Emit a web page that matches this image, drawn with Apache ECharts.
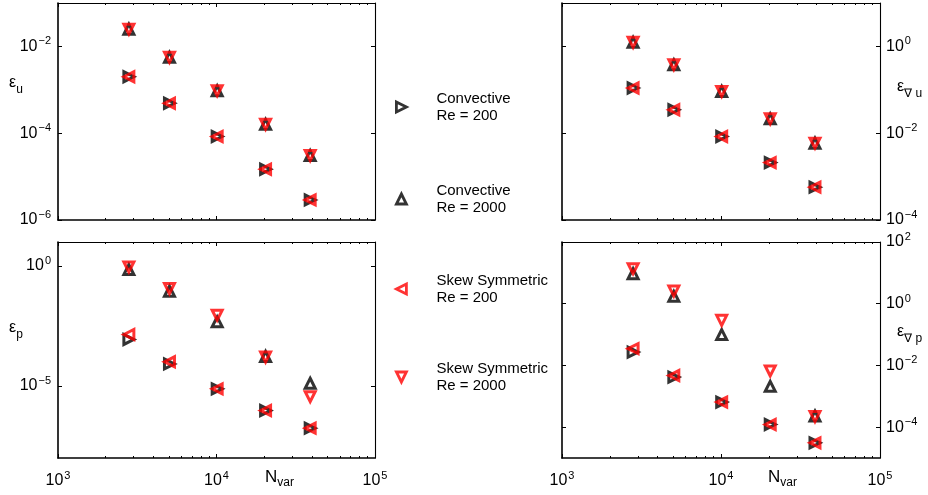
<!DOCTYPE html>
<html>
<head>
<meta charset="utf-8">
<script src="https://cdn.jsdelivr.net/npm/echarts@6/dist/echarts.min.js"></script>
<style>
  html, body { margin: 0; padding: 0; background: #ffffff; }
  #chart { width: 928px; height: 495px; }
</style>
</head>
<body>
<div id="chart"></div>
<script>
const FONT = '"Liberation Sans", Arial, Helvetica, sans-serif';

// Number of unknowns per mesh
const nVar = [2800, 5050, 10100, 20400, 39000];

// Tick values (log axes)
const xMajorTicks = [1e3, 1e4, 1e5];
const xMinorTicks = [2e3, 3e3, 4e3, 5e3, 6e3, 7e3, 8e3, 9e3,
                     2e4, 3e4, 4e4, 5e4, 6e4, 7e4, 8e4, 9e4];
const yTicksU = [1e-6, 1e-4, 1e-2];
const yTicksGradU = [1e-4, 1e-2, 1];
const yTicksP = [1e-5, 1];
const yTicksGradP = [1e-4, 1e-2, 1, 100];

// Velocity error
const errU_conv200  = [2.0e-3, 4.9e-4, 8.4e-5, 1.48e-5, 2.9e-6];
const errU_conv2000 = [2.5e-2, 5.6e-3, 9.5e-4, 1.6e-4, 3.05e-5];
const errU_skew200  = [2.0e-3, 4.9e-4, 8.4e-5, 1.48e-5, 2.9e-6];
const errU_skew2000 = [2.5e-2, 5.6e-3, 9.5e-4, 1.6e-4, 3.05e-5];

// Velocity gradient error
const errGU_conv200  = [0.11, 0.0347, 8.4e-3, 2.1e-3, 5.7e-4];
const errGU_conv2000 = [1.24, 0.378, 0.0916, 0.0214, 5.9e-3];
const errGU_skew200  = [0.11, 0.0347, 8.4e-3, 2.1e-3, 5.7e-4];
const errGU_skew2000 = [1.24, 0.378, 0.0916, 0.0214, 5.9e-3];

// Pressure error
const errP_conv200  = [8.7e-4, 8.3e-5, 7.6e-6, 9.5e-7, 1.75e-7];
const errP_conv2000 = [0.71, 0.089, 4.7e-3, 1.7e-4, 1.3e-5];
const errP_skew200  = [1.4e-3, 1.02e-4, 7.6e-6, 9.5e-7, 1.75e-7];
const errP_skew2000 = [0.91, 0.115, 8.9e-3, 1.6e-4, 3.6e-6];

// Pressure gradient error
const errGP_conv200  = [0.027, 4.2e-3, 6.5e-4, 1.22e-4, 3.1e-5];
const errGP_conv2000 = [9.4, 1.73, 0.1, 2.1e-3, 2.3e-4];
const errGP_skew200  = [0.035, 4.7e-3, 6.5e-4, 1.22e-4, 3.1e-5];
const errGP_skew2000 = [13.6, 2.57, 0.29, 6.6e-3, 2.2e-4];

const seriesNames = [
  'Convective\nRe = 200',
  'Convective\nRe = 2000',
  'Skew Symmetric\nRe = 200',
  'Skew Symmetric\nRe = 2000'
];
const seriesColors = ['#000000', '#000000', '#ff0000', '#ff0000'];
const seriesRotate = [-90, 0, 90, 180];   // right, up, left, down triangles
const legendIcons = [
  'path://M0,0L10,5L0,10Z',
  'path://M5,0L10,10L0,10Z',
  'path://M10,0L0,5L10,10Z',
  'path://M0,0L10,0L5,10Z'
];

const panels = [
  { grid: { left: 58,  top: 3,   width: 317, height: 217 }, yMin: 1e-6, yMax: 1e-1,
    yTicks: yTicksU, labelSide: 'left', xLabels: false,
    values: [errU_conv200, errU_conv2000, errU_skew200, errU_skew2000] },
  { grid: { left: 562, top: 3,   width: 318, height: 217 }, yMin: 1e-4, yMax: 1e1,
    yTicks: yTicksGradU, labelSide: 'right', xLabels: false,
    values: [errGU_conv200, errGU_conv2000, errGU_skew200, errGU_skew2000] },
  { grid: { left: 58,  top: 242, width: 317, height: 216 }, yMin: 1e-8, yMax: 1e1,
    yTicks: yTicksP, labelSide: 'left', xLabels: true,
    values: [errP_conv200, errP_conv2000, errP_skew200, errP_skew2000] },
  { grid: { left: 562, top: 242, width: 318, height: 216 }, yMin: 1e-5, yMax: 1e2,
    yTicks: yTicksGradP, labelSide: 'right', xLabels: true,
    values: [errGP_conv200, errGP_conv2000, errGP_skew200, errGP_skew2000] }
];

function powerLabel(v) {
  const e = Math.round(Math.log10(v));
  return '{b|10}{s|' + (e < 0 ? '\u2212' + (-e) : String(e)) + '}';
}
const powerRich = {
  b: { fontSize: 16, fontFamily: FONT, fontWeight: 'normal', color: '#000' },
  s: { fontSize: 11, fontFamily: FONT, fontWeight: 'normal', color: '#000', padding: [0, 0, 10, 1] }
};

const grids = [], xAxes = [], yAxes = [], series = [];

panels.forEach((p, g) => {
  grids.push(Object.assign({ containLabel: false }, p.grid));

  const xBase = { gridIndex: g, type: 'log', logBase: 10, min: 1e3, max: 1e5, splitLine: { show: false } };
  const mainX = xAxes.length;
  // bottom edge: frame, major ticks, labels
  xAxes.push(Object.assign({}, xBase, {
    position: 'bottom',
    axisLine: { show: true, lineStyle: { color: '#000', width: 1.6 } },
    axisTick: { show: true, inside: true, length: 4, customValues: xMajorTicks, lineStyle: { color: '#000', width: 1 } },
    axisLabel: { show: p.xLabels, customValues: xMajorTicks, formatter: powerLabel, rich: powerRich, margin: 12 }
  }));
  // bottom edge: minor ticks
  xAxes.push(Object.assign({}, xBase, {
    position: 'bottom',
    axisLine: { show: false },
    axisTick: { show: true, inside: true, length: 2, customValues: xMinorTicks, lineStyle: { color: '#000', width: 1 } },
    axisLabel: { show: false }
  }));
  // top edge: frame and major ticks
  xAxes.push(Object.assign({}, xBase, {
    position: 'top',
    axisLine: { show: true, lineStyle: { color: '#000', width: 1.1 } },
    axisTick: { show: true, inside: true, length: 4, customValues: xMajorTicks, lineStyle: { color: '#000', width: 1 } },
    axisLabel: { show: false }
  }));
  // top edge: minor ticks
  xAxes.push(Object.assign({}, xBase, {
    position: 'top',
    axisLine: { show: false },
    axisTick: { show: true, inside: true, length: 2, customValues: xMinorTicks, lineStyle: { color: '#000', width: 1 } },
    axisLabel: { show: false }
  }));

  const yBase = { gridIndex: g, type: 'log', logBase: 10, min: p.yMin, max: p.yMax, splitLine: { show: false } };
  const mainY = yAxes.length;
  ['left', 'right'].forEach(side => {
    const labelled = side === p.labelSide;
    yAxes.push(Object.assign({}, yBase, {
      position: side,
      axisLine: { show: true, lineStyle: { color: '#000', width: side === 'left' ? 1.6 : 1.1 } },
      axisTick: { show: true, inside: true, length: 4, customValues: p.yTicks, lineStyle: { color: '#000', width: 1 } },
      axisLabel: { show: labelled, customValues: p.yTicks, formatter: powerLabel, rich: powerRich, margin: side === 'left' ? 7 : 6 }
    }));
  });

  p.values.forEach((vals, k) => {
    series.push({
      name: seriesNames[k],
      type: 'scatter',
      xAxisIndex: mainX,
      yAxisIndex: mainY,
      symbol: 'triangle',
      symbolSize: 10,
      symbolRotate: seriesRotate[k],
      itemStyle: { color: 'transparent', borderColor: seriesColors[k], borderWidth: 3 },
      emphasis: { disabled: true },
      silent: true,
      z: 2 + k,
      data: nVar.map((x, i) => [x, vals[i]])
    });
  });
});

// One legend block per series, stacked between the two columns
const legendTops = [90, 182, 272, 360];
const legends = seriesNames.map((name, k) => ({
  data: [name],
  left: 395,
  top: legendTops[k],
  padding: 0,
  orient: 'vertical',
  icon: legendIcons[k],
  itemWidth: 10,
  itemHeight: 10,
  selectedMode: false,
  itemStyle: { color: 'transparent', borderColor: seriesColors[k], borderWidth: 2.8 },
  textStyle: { fontFamily: FONT, fontSize: 15, lineHeight: 17, color: '#000', padding: [0, 0, 0, 25] }
}));

// Axis titles
const symRich = {
  e: { fontSize: 16, fontFamily: FONT, fontWeight: 'normal', color: '#000' },
  s: { fontSize: 12, fontFamily: FONT, fontWeight: 'normal', color: '#000', padding: [15, 0, 0, 0] }
};
const nameRich = {
  n: { fontSize: 17, fontFamily: FONT, fontWeight: 'normal', color: '#000' },
  s: { fontSize: 12, fontFamily: FONT, fontWeight: 'normal', color: '#000', padding: [12, 0, 0, 0] }
};
const titles = [
  { text: '{e|\u03b5}{s|u}', left: 9, top: 69, textStyle: { rich: symRich } },
  { text: '{e|\u03b5}{s|p}', left: 9, top: 314, textStyle: { rich: symRich } },
  { text: '{e|\u03b5}{s|\u2207 u}', left: 897, top: 73, textStyle: { rich: symRich } },
  { text: '{e|\u03b5}{s|\u2207 p}', left: 897, top: 318, textStyle: { rich: symRich } },
  { text: '{n|N}{s|var}', left: 265, top: 465, textStyle: { rich: nameRich } },
  { text: '{n|N}{s|var}', left: 768, top: 465, textStyle: { rich: nameRich } }
].map(t => Object.assign({ padding: 0 }, t, {
  textStyle: Object.assign({ fontWeight: 'normal', fontFamily: FONT, color: '#000' }, t.textStyle)
}));

const chart = echarts.init(document.getElementById('chart'), null, { renderer: 'canvas' });
chart.setOption({
  backgroundColor: '#ffffff',
  animation: false,
  title: titles,
  legend: legends,
  grid: grids,
  xAxis: xAxes,
  yAxis: yAxes,
  series: series
});
</script>
</body>
</html>
